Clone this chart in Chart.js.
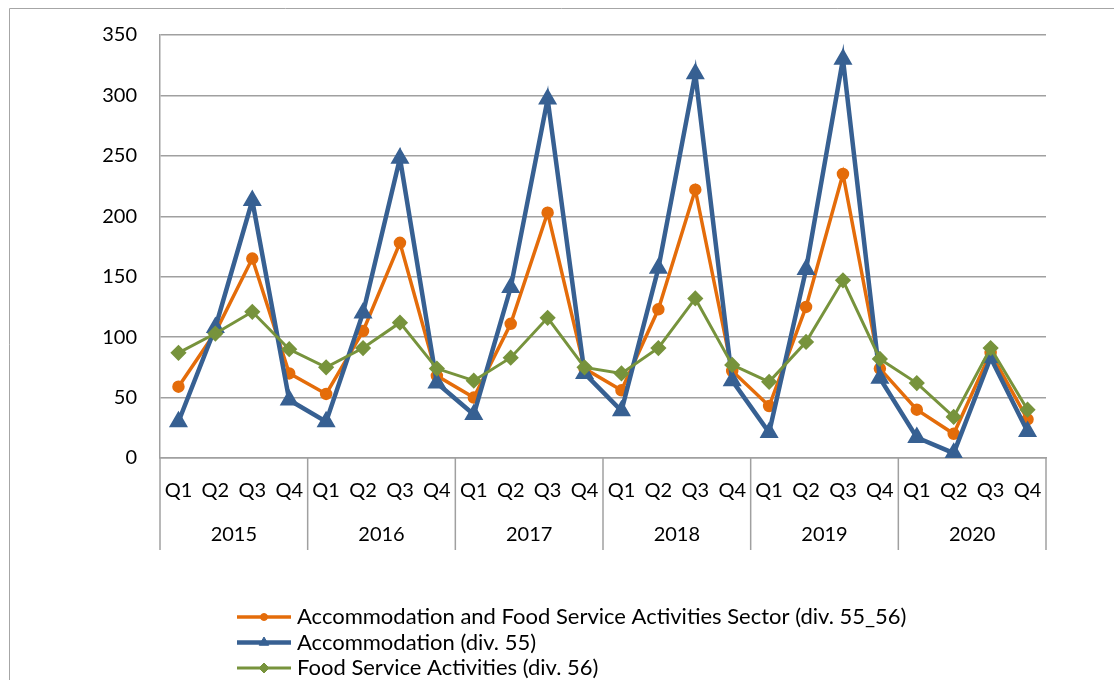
<!DOCTYPE html>
<html>
<head>
<meta charset="utf-8">
<script src="https://cdn.jsdelivr.net/npm/chart.js@4"></script>
<style>
  html, body { margin: 0; padding: 0; background: #fff; }
  #wrap { width: 1114px; height: 680px; position: relative; }
</style>
</head>
<body>
<div id="wrap"><canvas id="c" width="1114" height="680"></canvas></div>
<script>
// ---- data ----
const quarterLabels = ['Q1','Q2','Q3','Q4','Q1','Q2','Q3','Q4','Q1','Q2','Q3','Q4',
                       'Q1','Q2','Q3','Q4','Q1','Q2','Q3','Q4','Q1','Q2','Q3','Q4'];
const years = ['2015','2016','2017','2018','2019','2020'];
const sectorTotal = [59, 104, 165, 70, 53, 105, 178, 68, 50, 111, 203, 74,
                     56, 123, 222, 72, 43, 125, 235, 74, 40, 20, 87, 32];
const accommodation = [30, 108, 213, 48, 30, 120, 248, 62, 36, 141, 297, 70,
                       39, 157, 318, 64, 21, 156, 330, 66, 17, 4, 83, 22];
const foodService = [87, 103, 121, 90, 75, 91, 112, 74, 64, 83, 116, 75,
                     70, 91, 132, 77, 63, 96, 147, 82, 62, 34, 91, 40];
const seriesNames = [
  'Accommodation and Food Service Activities Sector (div. 55_56)',
  'Accommodation (div. 55)',
  'Food Service Activities (div. 56)'
];
const yTicks = [0, 50, 100, 150, 200, 250, 300, 350];

const FONT = 'Lato, "Open Sans", "DejaVu Sans", sans-serif';
const GRID = '#a0a0a0';
const ORANGE = '#E46C0A';
const BLUE = '#376092';
const GREEN = '#77933C';

const decorPlugin = {
  id: 'decor',
  afterDraw(chart) {
    const ctx = chart.ctx;
    const xs = chart.scales.x;
    const area = chart.chartArea;
    ctx.save();
    // outer frame (top + left)
    ctx.strokeStyle = '#a6a6a6';
    ctx.lineWidth = 1;
    ctx.beginPath();
    ctx.moveTo(9.5, 680);
    ctx.lineTo(9.5, 8.5);
    ctx.lineTo(1114, 8.5);
    ctx.stroke();

    // year separators and year labels
    const step = (xs.getPixelForValue(1) - xs.getPixelForValue(0));
    ctx.strokeStyle = GRID;
    ctx.lineWidth = 1.5;
    for (let k = 0; k <= years.length; k++) {
      let x;
      if (k < years.length) x = xs.getPixelForValue(k * 4) - step / 2;
      else x = xs.getPixelForValue(quarterLabels.length - 1) + step / 2;
      ctx.beginPath();
      ctx.moveTo(x, area.bottom);
      ctx.lineTo(x, 550);
      ctx.stroke();
    }
    ctx.fillStyle = '#000';
    ctx.font = '20px ' + FONT;
    ctx.textAlign = 'center';
    ctx.textBaseline = 'middle';
    years.forEach((y, k) => {
      const x0 = xs.getPixelForValue(k * 4);
      const x1 = xs.getPixelForValue(k * 4 + 3);
      ctx.fillText(y, (x0 + x1) / 2, 535);
    });

    // legend
    const rowsY = [617, 642.5, 668];
    chart.data.datasets.forEach((ds, i) => {
      const y = rowsY[i];
      ctx.strokeStyle = ds.borderColor;
      ctx.lineWidth = ds.borderWidth;
      ctx.beginPath();
      ctx.moveTo(237, y);
      ctx.lineTo(291, y);
      ctx.stroke();
      ctx.fillStyle = ds.pointBackgroundColor;
      ctx.strokeStyle = ds.pointBorderColor;
      ctx.lineWidth = 1;
      Chart.helpers.drawPoint(ctx, {
        pointStyle: ds.pointStyle,
        radius: ds.pointRadius - 1,
        borderWidth: 1,
        rotation: 0
      }, 264, y);
      ctx.fillStyle = '#000';
      ctx.font = '22px ' + FONT;
      ctx.textAlign = 'left';
      ctx.textBaseline = 'middle';
      ctx.fillText(ds.label, 297, y);
    });
    ctx.restore();
  }
};

new Chart(document.getElementById('c'), {
  type: 'line',
  data: {
    labels: quarterLabels,
    datasets: [
      {
        label: seriesNames[0], data: sectorTotal,
        borderColor: ORANGE, backgroundColor: ORANGE,
        pointBackgroundColor: ORANGE, pointBorderColor: ORANGE,
        borderWidth: 3.5, pointStyle: 'circle', pointRadius: 4.5, order: 3
      },
      {
        label: seriesNames[1], data: accommodation,
        borderColor: BLUE, backgroundColor: BLUE,
        pointBackgroundColor: BLUE, pointBorderColor: BLUE,
        borderWidth: 4.5, pointStyle: 'triangle', pointRadius: 6.5, order: 2
      },
      {
        label: seriesNames[2], data: foodService,
        borderColor: GREEN, backgroundColor: GREEN,
        pointBackgroundColor: GREEN, pointBorderColor: GREEN,
        borderWidth: 3, pointStyle: 'rectRot', pointRadius: 6, order: 1
      }
    ]
  },
  options: {
    responsive: false,
    animation: false,
    events: [],
    layout: { padding: { left: 0, top: 32, right: 68, bottom: 122 } },
    plugins: { legend: { display: false }, tooltip: { enabled: false } },
    elements: { line: { tension: 0 } },
    scales: {
      x: {
        offset: true,
        afterFit(s) { s.height = 100; },
        grid: { display: false },
        border: { display: true, color: GRID, width: 1.5 },
        ticks: {
          color: '#000', font: { family: FONT, size: 20 },
          padding: 13, maxRotation: 0, autoSkip: false
        }
      },
      y: {
        min: 0, max: 350,
        afterFit(s) { s.width = 160; },
        afterBuildTicks(s) { s.ticks = yTicks.map(v => ({ value: v })); },
        grid: { color: GRID, lineWidth: 1.5, drawTicks: false },
        border: { display: true, color: GRID, width: 1.5 },
        ticks: {
          color: '#000', font: { family: FONT, size: 20 },
          padding: 23
        }
      }
    }
  },
  plugins: [decorPlugin]
});
</script>
</body>
</html>
